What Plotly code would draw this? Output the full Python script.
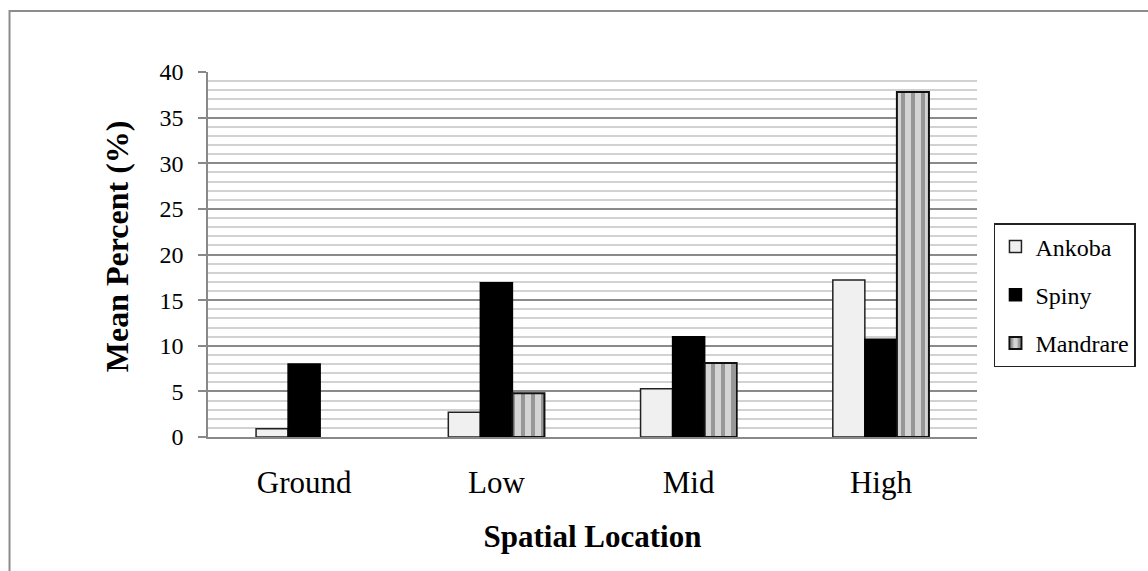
import plotly.graph_objects as go

# Spatial location categories and mean percent per site
categories = ["Ground", "Low", "Mid", "High"]
ankoba = [0.9, 2.7, 5.3, 17.2]
spiny = [8.0, 16.9, 11.0, 10.7]
mandrare = [0.0, 4.8, 8.1, 37.8]
y_ticks = [0, 5, 10, 15, 20, 25, 30, 35, 40]

W, H = 1148, 571
L, R, T, B = 208, 169, 72, 134
pw, ph = W - L - R, H - T - B

serif = "Times New Roman"

fig = go.Figure()
fig.add_trace(go.Bar(
    x=categories, y=ankoba, name="Ankoba", legendgroup="a",
    marker=dict(color="#f0f0f0", line=dict(color="#222222", width=1.5)),
))
fig.add_trace(go.Bar(
    x=categories, y=spiny, name="Spiny", legendgroup="b",
    marker=dict(color="#000000", line=dict(color="#000000", width=1.5)),
))
fig.add_trace(go.Bar(
    # zero values are left empty so no outline is drawn on the baseline
    x=categories, y=[v if v > 0 else None for v in mandrare],
    name="Mandrare", legendgroup="c",
    marker=dict(
        color="#c8c8c8",
        line=dict(color="#111111", width=2),
        pattern=dict(shape="|", size=10, solidity=0.4,
                     fgcolor="#5a5a5a", bgcolor="#d4d4d4"),
    ),
))

# Outer chart frame
fig.add_shape(
    type="rect", xref="paper", yref="paper",
    x0=(9 - L) / pw, x1=(W + 5 - L) / pw,
    y0=-(H + 5 - (T + ph)) / ph, y1=(T + ph - 11) / ph,
    line=dict(color="#8c8c8c", width=2), fillcolor="rgba(0,0,0,0)",
    layer="below",
)

# Vertical axis title, set slightly above the plot's centre
fig.add_annotation(
    text="<b>Mean Percent (%)</b>", textangle=-90,
    xref="paper", yref="paper",
    x=(117 - L) / pw, y=(T + ph - 246) / ph,
    xanchor="center", yanchor="middle", showarrow=False,
    font=dict(size=32, family=serif, color="#000000"),
)

fig.update_layout(
    width=W, height=H,
    margin=dict(l=L, r=R, t=T, b=B),
    paper_bgcolor="white", plot_bgcolor="white",
    barmode="group", bargap=0.5, bargroupgap=0,
    font=dict(family=serif, color="#000000"),
    showlegend=True,
    legend=dict(
        x=(996 - L) / pw, y=(T + ph - 223) / ph,
        xanchor="left", yanchor="top",
        bordercolor="#222222", borderwidth=1.5, bgcolor="white",
        font=dict(family=serif, size=24, color="#000000"),
        tracegroupgap=14, itemwidth=30,
    ),
    xaxis=dict(
        showline=True, linecolor="#888888", linewidth=1.5,
        ticks="", tickfont=dict(size=31, family=serif, color="#000000"),
        ticklabelstandoff=17,
        title=dict(text="<b>Spatial Location</b>",
                   font=dict(size=31, family=serif, color="#000000"), standoff=26),
    ),
    yaxis=dict(
        range=[0, 40], tickvals=y_ticks,
        showline=True, linecolor="#888888", linewidth=1.5,
        ticks="outside", ticklen=8, tickcolor="#888888", tickwidth=1.5,
        tickfont=dict(size=24, family=serif, color="#000000"),
        ticklabelstandoff=10,
        showgrid=True, gridcolor="#8a8a8a", gridwidth=1.5,
        minor=dict(dtick=1, showgrid=True, gridcolor="#d2d2d2", gridwidth=2),
        zeroline=False,
    ),
)

fig.write_html("out.html")
